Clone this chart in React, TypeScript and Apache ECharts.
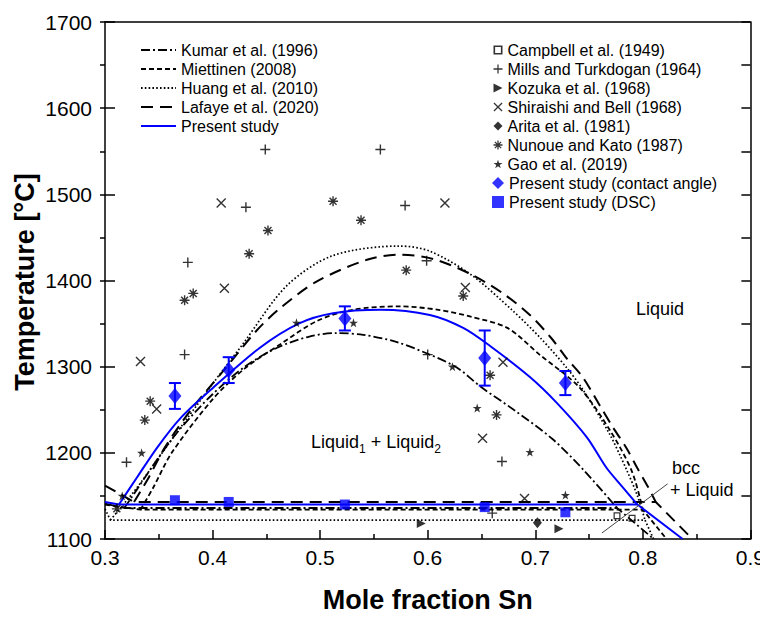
import React, { useEffect, useRef } from "react";
import * as echarts from "echarts";

const FONT = "'Liberation Sans', Arial, Helvetica, sans-serif";
const BLUE = "#0000ff";

// ---- model curves (x = mole fraction Sn, y = T in °C) ----
const kumarDome = [[0.318,1136],[0.33,1158],[0.35,1195],[0.37,1228],[0.4,1268],[0.43,1300],[0.46,1322],[0.49,1335],[0.515,1339],[0.54,1337],[0.57,1329],[0.6,1315],[0.627,1299],[0.65,1276],[0.68,1250],[0.716,1216],[0.745,1180],[0.776,1136]];
const kumarBase = [[0.3,1141],[0.318,1136],[0.776,1136],[0.81,1100]];

const miettinenDome = [[0.333,1134],[0.345,1160],[0.362,1200],[0.4,1262],[0.43,1298],[0.463,1326],[0.497,1353],[0.53,1366],[0.574,1370],[0.61,1366],[0.64,1358],[0.674,1345],[0.704,1314],[0.741,1276],[0.77,1225],[0.79,1178],[0.8,1134]];
const miettinenBase = [[0.3,1140],[0.333,1134],[0.8,1134],[0.822,1100]];

const huangDome = [[0.305,1122],[0.33,1160],[0.356,1205],[0.4,1280],[0.428,1326],[0.469,1394],[0.512,1429],[0.574,1440],[0.602,1434],[0.64,1407],[0.679,1365],[0.705,1333],[0.729,1299],[0.745,1272],[0.769,1222],[0.785,1180],[0.795,1150],[0.802,1122]];
const huangBase = [[0.3,1135],[0.305,1122],[0.802,1122],[0.81,1100]];

const lafayeDome = [[0.327,1143],[0.34,1170],[0.356,1207],[0.38,1250],[0.41,1295],[0.441,1342],[0.463,1368],[0.497,1399],[0.5435,1424],[0.574,1430],[0.605,1425],[0.639,1408],[0.67,1385],[0.695,1360],[0.715,1333],[0.729,1310],[0.744,1288],[0.76,1255],[0.772,1230],[0.785,1205],[0.795,1182],[0.805,1160],[0.812,1143]];
const lafayeBase = [[0.3,1162],[0.327,1143],[0.812,1143],[0.846,1100]];

const presentDome = [[0.313,1140],[0.33,1172],[0.349,1207],[0.37,1240],[0.4,1275],[0.444,1322],[0.48,1350],[0.512,1362],[0.556,1366],[0.602,1360],[0.633,1345],[0.658,1324],[0.695,1288],[0.72,1258],[0.748,1218],[0.766,1183],[0.78,1162],[0.795,1140]];
const presentBase = [[0.3,1143],[0.313,1140],[0.795,1140],[0.837,1100]];

// ---- experimental data ----
const campbell = [[0.776,1127],[0.79,1124]];
const mills = [[0.32,1189],[0.374,1314],[0.377,1421],[0.431,1485],[0.449,1552],[0.556,1552],[0.579,1487],[0.599,1423],[0.6,1314],[0.669,1190],[0.66,1130]];
const kozuka = [[0.594,1118],[0.722,1112]];
const shiraishi = [[0.333,1306],[0.348,1251],[0.408,1490],[0.411,1391],[0.616,1490],[0.635,1392],[0.67,1305],[0.651,1217],[0.69,1147]];
const arita = [[0.702,1119]];
const nunoue = [[0.311,1135],[0.337,1238],[0.342,1260],[0.374,1377],[0.382,1385],[0.434,1431],[0.4515,1458],[0.512,1492],[0.538,1470],[0.58,1412],[0.633,1382],[0.658,1290],[0.664,1244]];
const gao = [[0.316,1150],[0.334,1200],[0.478,1351],[0.531,1351],[0.623,1300],[0.646,1252],[0.695,1201],[0.728,1151]];
const presentCA = [[0.365,1266,15],[0.415,1296,15],[0.523,1356,14],[0.653,1310,32],[0.728,1281,14]];
const presentDSC = [[0.365,1145],[0.415,1143],[0.523,1140],[0.653,1137],[0.728,1131]];

const xTicks = [0.3, 0.4, 0.5, 0.6, 0.7, 0.8, 0.9];

const PLUS = "path://M4.3,0H5.7V10H4.3Z M0,4.3H10V5.7H0Z";
const CROSS = "path://M0,1L1,0L10,9L9,10Z M9,0L10,1L1,10L0,9Z";
const ASTER = "path://M4.3,0H5.7V10H4.3Z M0,4.3H10V5.7H0Z M1,2L2,1L9,8L8,9Z M8,1L9,2L2,9L1,8Z";
const STAR = "path://M5,0L6.2,3.6L10,3.6L6.9,5.9L8.1,9.5L5,7.3L1.9,9.5L3.1,5.9L0,3.6L3.8,3.6Z";
const TRI_R = "path://M0,0L10,5L0,10Z";
const HOLLOW_SQ = "path://M0,0H10V10H0Z M1.8,1.8V8.2H8.2V1.8Z";

const blackNames = [
  "Campbell et al. (1949)", "Mills and Turkdogan (1964)", "Kozuka et al. (1968)",
  "Shiraishi and Bell (1968)", "Arita et al. (1981)", "Nunoue and Kato (1987)", "Gao et al. (2019)",
];
const blueNames = ["Present study (contact angle)", "Present study (DSC)"];

export default function App() {
  const ref = useRef<HTMLDivElement>(null);
  useEffect(() => {
    if (!ref.current) return;
    const chart = echarts.init(ref.current, null, { renderer: "svg" });

    const models = [
      { name: "Kumar et al. (1996)", dome: kumarDome, base: kumarBase, type: [9, 3, 2, 3], color: "#000", width: 1.8 },
      { name: "Miettinen (2008)", dome: miettinenDome, base: miettinenBase, type: [5, 3], color: "#000", width: 1.8 },
      { name: "Huang et al. (2010)", dome: huangDome, base: huangBase, type: [1.6, 2.2], color: "#000", width: 1.7 },
      { name: "Lafaye et al. (2020)", dome: lafayeDome, base: lafayeBase, type: [12, 7], color: "#000", width: 2 },
      { name: "Present study", dome: presentDome, base: presentBase, type: "solid", color: BLUE, width: 2 },
    ];

    const series: any[] = [];
    models.forEach((m, i) => {
      series.push({
        type: "line", name: m.name, data: m.dome, symbol: "none", smooth: 0.3,
        lineStyle: { color: m.color, width: m.width, type: m.type }, itemStyle: { color: m.color },
        z: i === 4 ? 4 : 3, silent: true,
      });
      series.push({
        type: "line", name: m.name, data: m.base, symbol: "none", smooth: false,
        lineStyle: { color: m.color, width: m.width, type: m.type }, itemStyle: { color: m.color },
        z: i === 4 ? 4 : 3, silent: true,
      });
    });

    const scat = (name: string, data: number[][], symbol: string, size: any, color: string) => ({
      type: "scatter", name, data, symbol, symbolSize: size,
      itemStyle: { color }, z: 5, silent: true,
    });

    series.push(scat(blackNames[0], campbell, HOLLOW_SQ, 7, "#000"));
    series.push(scat(blackNames[1], mills, PLUS, 10, "#000"));
    series.push(scat(blackNames[2], kozuka, TRI_R, 9, "#000"));
    series.push(scat(blackNames[3], shiraishi, CROSS, 10, "#000"));
    series.push(scat(blackNames[4], arita, "diamond", [9, 11], "#000"));
    series.push(scat(blackNames[5], nunoue, ASTER, 10, "#000"));
    series.push(scat(blackNames[6], gao, STAR, 9, "#000"));
    series.push({
      type: "custom", name: "ca-err", data: presentCA, z: 6, silent: true,
      encode: { x: 0, y: 1 },
      renderItem: (params: any, api: any) => {
        const x = api.value(0), y = api.value(1), e = api.value(2);
        const t = api.coord([x, y + e]);
        const b = api.coord([x, y - e]);
        const hw = 6;
        const st = { stroke: BLUE, lineWidth: 2 };
        return {
          type: "group",
          children: [
            { type: "line", shape: { x1: t[0], y1: t[1], x2: b[0], y2: b[1] }, style: st },
            { type: "line", shape: { x1: t[0] - hw, y1: t[1], x2: t[0] + hw, y2: t[1] }, style: st },
            { type: "line", shape: { x1: b[0] - hw, y1: b[1], x2: b[0] + hw, y2: b[1] }, style: st },
          ],
        };
      },
    });
    series.push({ ...scat(blueNames[0], presentCA.map((d) => [d[0], d[1]]), "diamond", [13, 16], BLUE), z: 7 });
    series.push({ ...scat(blueNames[1], presentDSC, "rect", 10, BLUE), z: 7 });
    series.push({
      type: "line", name: "arrow", data: [], silent: true,
      markLine: {
        silent: true, symbol: ["none", "arrow"], symbolSize: [0, 9],
        lineStyle: { color: "#444", width: 1, type: "solid" }, label: { show: false },
        data: [[{ coord: [0.823, 1164] }, { coord: [0.762, 1107] }]],
      },
    });

    const axLine = { color: "#000", width: 1.5 };
    const legendText = { fontSize: 16, color: "#000", fontFamily: FONT };
    const option: any = {
      animation: false,
      backgroundColor: "#fff",
      textStyle: { fontFamily: FONT },
      grid: { left: 105, right: 16, top: 22, bottom: 75, containLabel: false },
      xAxis: [
        {
          type: "value", min: 0.3, max: 0.9, interval: 0.1, position: "bottom",
          axisLine: { show: true, onZero: false, lineStyle: axLine },
          axisTick: { show: true, inside: true, length: 9, lineStyle: axLine },
          minorTick: { show: true, splitNumber: 2, length: 5, lineStyle: axLine },
          splitLine: { show: false },
          axisLabel: { fontSize: 21, color: "#000", margin: 8, fontFamily: FONT, formatter: (v: number) => (xTicks.some((t) => Math.abs(t - v) < 1e-6) ? v.toFixed(1) : "") },
          name: "Mole fraction Sn", nameLocation: "middle", nameGap: 47,
          nameTextStyle: { fontSize: 27, fontWeight: "bold", color: "#000", fontFamily: FONT },
        },
        {
          type: "value", min: 0.3, max: 0.9, interval: 0.1, position: "top",
          axisLine: { show: true, onZero: false, lineStyle: axLine },
          axisTick: { show: false }, axisLabel: { show: false }, splitLine: { show: false },
        },
      ],
      yAxis: [
        {
          type: "value", min: 1100, max: 1700, interval: 100, position: "left",
          axisLine: { show: true, onZero: false, lineStyle: axLine },
          axisTick: { show: true, inside: true, length: 10, lineStyle: axLine },
          splitLine: { show: false },
          axisLabel: { fontSize: 21, color: "#000", margin: 13, fontFamily: FONT, formatter: (v: number) => String(v) },
        },
        {
          type: "value", min: 1100, max: 1700, interval: 50, position: "left",
          axisLine: { show: false },
          axisTick: { show: true, inside: false, length: 5, lineStyle: axLine },
          axisLabel: { show: false }, splitLine: { show: false },
        },
        {
          type: "value", min: 1100, max: 1700, interval: 50, position: "right",
          axisLine: { show: true, onZero: false, lineStyle: axLine },
          axisTick: { show: true, inside: true, length: 9, lineStyle: axLine },
          axisLabel: { show: false }, splitLine: { show: false },
        },
      ],
      legend: [
        {
          data: models.map((m) => m.name), orient: "vertical", left: 140, top: 42, padding: 0,
          itemWidth: 35, itemHeight: 14, itemGap: 3, itemTextGap: 3, selectedMode: false,
          itemStyle: { opacity: 0 },
          textStyle: legendText,
        },
        {
          data: blackNames, orient: "vertical", left: 493.5, top: 42, padding: 0,
          itemWidth: 9, itemHeight: 9, itemGap: 3, itemTextGap: 17.5, selectedMode: false,
          textStyle: legendText,
        },
        {
          data: blueNames, orient: "vertical", left: 492, top: 175, padding: 0,
          itemWidth: 12, itemHeight: 12, itemGap: 3, itemTextGap: 16, selectedMode: false,
          textStyle: legendText,
        },
      ],
      graphic: [
        {
          type: "text", x: 25, y: 282, rotation: Math.PI / 2,
          style: { text: "Temperature [°C]", font: `bold 27px ${FONT}`, fill: "#000", align: "center", verticalAlign: "middle" },
        },
        {
          type: "text", x: 660, y: 309,
          style: { text: "Liquid", font: `18px ${FONT}`, fill: "#000", align: "center", verticalAlign: "middle" },
        },
        {
          type: "text", x: 376, y: 442,
          style: {
            text: "{a|Liquid}{s|1}{a| + Liquid}{s|2}", align: "center", verticalAlign: "middle",
            rich: {
              a: { fontSize: 18, fontFamily: FONT, fill: "#000", color: "#000", lineHeight: 26, verticalAlign: "middle" },
              s: { fontSize: 12, fontFamily: FONT, fill: "#000", color: "#000", lineHeight: 12, verticalAlign: "bottom" },
            },
          },
        },
        {
          type: "text", x: 672, y: 468,
          style: { text: "bcc", font: `18px ${FONT}`, fill: "#000", align: "left", verticalAlign: "middle" },
        },
        {
          type: "text", x: 670, y: 490,
          style: { text: "+ Liquid", font: `18px ${FONT}`, fill: "#000", align: "left", verticalAlign: "middle" },
        },
      ],
      series,
    };
    chart.setOption(option);
    return () => chart.dispose();
  }, []);
  return <div ref={ref} style={{ width: 768, height: 618, margin: -8 }} />;
}
